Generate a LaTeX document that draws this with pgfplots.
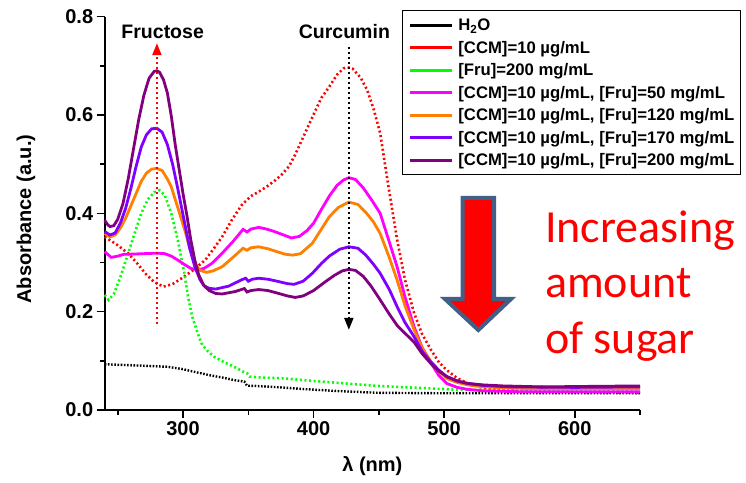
\documentclass[border=0pt]{standalone}
\usepackage{pgfplots}
\pgfplotsset{compat=1.18}
\usepackage{fontspec}
\setmainfont{Liberation Sans}
\newfontfamily\carlito{Carlito}
\usetikzlibrary{arrows.meta}

\definecolor{cH2O}{RGB}{0,0,0}
\definecolor{cCCM}{RGB}{255,0,0}
\definecolor{cFru}{RGB}{0,255,0}
\definecolor{cA}{RGB}{255,0,255}
\definecolor{cB}{RGB}{255,128,0}
\definecolor{cC}{RGB}{128,0,255}
\definecolor{cD}{RGB}{128,0,128}
\definecolor{arrowedge}{RGB}{65,95,135}

\pgfplotstableread{
x y
240 0.093
260 0.091
288 0.088
300 0.083
308 0.078
320 0.071
330 0.066
339 0.061
347 0.0576
349 0.0495
355 0.049
369 0.047
390 0.043
415 0.039
449 0.035
500 0.034
560 0.034
650 0.034
}\waterdata

\pgfplotstableread{
x y
240 0.3525
250 0.335
258 0.3186
265 0.298
271 0.278
278 0.260
285 0.251
292 0.256
299 0.268
308 0.285
317 0.305
324 0.330
330 0.3525
337 0.385
345 0.417
352 0.435
358 0.444
365 0.456
371 0.468
376 0.480
381 0.495
386 0.520
391 0.549
396 0.578
401 0.607
406 0.635
412 0.6575
418 0.682
423 0.695
426 0.697
430 0.694
436 0.676
441 0.651
446 0.612
451 0.563
457 0.460
464 0.346
470 0.265
477 0.197
483 0.155
490 0.122
496 0.097
502 0.081
510 0.065
518 0.054
530 0.045
541 0.041
570 0.038
610 0.036
650 0.035
}\ccmdata

\pgfplotstableread{
x y
240 0.234
243 0.224
247 0.236
252 0.270
258 0.319
263 0.360
268 0.400
273 0.428
278 0.443
282 0.447
286 0.437
291 0.400
296 0.345
301 0.278
304 0.228
307 0.190
311 0.158
314 0.136
318 0.122
324 0.108
331 0.098
339 0.088
346 0.078
349 0.075
351 0.068
360 0.066
377 0.0644
395 0.060
415 0.056
449 0.049
480 0.045
512 0.041
550 0.040
600 0.039
650 0.038
}\frudata

\pgfplotstableread{
x y
240 0.322
245 0.3105
250 0.313
255 0.317
260 0.317
270 0.318
280 0.319
286 0.318
291 0.313
296 0.305
301 0.296
306 0.288
311 0.285
316 0.288
322 0.298
330 0.319
338 0.342
346 0.3675
349 0.362
352 0.368
358 0.3715
364 0.368
370 0.363
377 0.356
383 0.350
389 0.353
395 0.365
400 0.380
406 0.408
412 0.435
418 0.457
423 0.468
427 0.4725
432 0.469
438 0.452
445 0.425
451 0.400
457 0.350
464 0.291
470 0.230
477 0.169
483 0.128
490 0.095
496 0.070
502 0.054
510 0.046
518 0.042
530 0.039
560 0.037
650 0.037
}\fiftydata

\pgfplotstableread{
x y
240 0.359
244 0.352
248 0.356
252 0.370
256 0.390
260 0.415
264 0.440
268 0.465
272 0.482
276 0.490
280 0.4915
284 0.487
288 0.470
291 0.454
295 0.420
299 0.386
302 0.360
305 0.330
309 0.298
313 0.284
318 0.280
323 0.283
330 0.2915
338 0.310
346 0.329
349 0.325
352 0.330
358 0.332
365 0.328
372 0.322
378 0.317
384 0.315
390 0.318
399 0.339
406 0.368
412 0.393
419 0.412
427 0.423
434 0.418
440 0.402
446 0.382
451 0.359
458 0.310
464 0.264
470 0.212
477 0.163
483 0.127
490 0.098
496 0.079
502 0.064
510 0.056
518 0.051
530 0.047
560 0.044
650 0.044
}\onetwentydata

\pgfplotstableread{
x y
240 0.363
244 0.356
248 0.360
252 0.380
256 0.410
260 0.450
264 0.495
268 0.535
272 0.560
276 0.572
280 0.573
284 0.565
288 0.540
292 0.500
296 0.450
299 0.410
302 0.370
305 0.330
309 0.2915
313 0.265
316 0.253
320 0.2475
325 0.246
335 0.252
345 0.265
348 0.268
350 0.262
353 0.266
358 0.268
365 0.266
372 0.262
380 0.257
385 0.2556
392 0.262
399 0.278
406 0.298
412 0.313
420 0.327
427 0.332
434 0.329
440 0.315
446 0.296
451 0.278
458 0.245
464 0.210
470 0.178
477 0.149
483 0.120
490 0.097
496 0.081
502 0.068
510 0.059
518 0.054
530 0.050
550 0.047
600 0.046
650 0.047
}\onesevdata

\pgfplotstableread{
x y
240 0.386
242 0.378
244 0.373
247 0.375
250 0.388
254 0.420
258 0.470
262 0.530
266 0.590
270 0.640
274 0.675
278 0.689
280 0.690
282 0.687
285 0.672
288 0.645
291 0.598
294 0.540
297 0.490
300 0.440
303 0.395
306 0.345
309 0.305
312 0.275
316 0.253
320 0.243
325 0.237
330 0.236
340 0.241
347 0.247
349 0.240
352 0.243
358 0.245
365 0.243
372 0.238
380 0.232
386 0.229
392 0.232
400 0.243
408 0.259
416 0.274
422 0.283
427 0.286
432 0.284
438 0.272
444 0.252
451 0.224
458 0.195
464 0.172
470 0.156
477 0.138
483 0.115
490 0.094
496 0.079
502 0.068
510 0.059
518 0.054
530 0.051
545 0.049
575 0.047
610 0.048
650 0.049
}\twohundreddata

\begin{document}
\begin{tikzpicture}[x=1pt,y=1pt]
\useasboundingbox (0,0) rectangle (746,482);
\begin{axis}[
  at={(104.7pt,72pt)}, anchor=south west,
  scale only axis, width=535.3pt, height=393.3pt,
  xmin=240, xmax=650, ymin=0, ymax=0.8,
  axis x line=bottom, axis y line=left,
  axis line style={-, line width=1.6pt},
  clip=false,
  xtick={300,400,500,600},
  minor xtick={250,350,450,550,650},
  ytick={0,0.2,0.4,0.6,0.8},
  minor ytick={0.1,0.3,0.5,0.7},
  tick align=outside,
  major tick length=8pt, minor tick length=5pt,
  every tick/.style={black, line width=1.6pt},
  /pgf/number format/assume math mode=true,
  yticklabel style={/pgf/number format/.cd, fixed, fixed zerofill, precision=1},
  ticklabel style={font=\bfseries\fontsize{20}{24}\selectfont},
  xlabel={λ (nm)},
  ylabel={Absorbance (a.u.)},
  label style={font=\bfseries\fontsize{20}{24}\selectfont},
  xlabel style={at={(axis description cs:0.5,-0.1424)}, anchor=center},
  ylabel style={at={(axis description cs:-0.147,0.4856)}, anchor=center},
  legend cell align=left,
  legend image code/.code={\path (0pt,0pt) -- (42pt,0pt); \draw[#1] (5pt,0pt) -- (42pt,0pt);},
  legend style={at={(0.5548,1.017)}, anchor=north west, draw=black, line width=1.2pt,
    inner xsep=6.3pt, inner ysep=8pt, row sep=9.5pt, column sep=5pt,
    font=\bfseries\fontsize{16.7}{18}\selectfont,
    nodes={inner sep=0pt, text height=12pt, text depth=1pt}},
]
% spectra
\addplot[cH2O, line width=2.4pt, dash pattern=on 1.6pt off 1.6pt, forget plot] table {\waterdata};
\addplot[cCCM, line width=2.6pt, dash pattern=on 2pt off 2.6pt, forget plot] table {\ccmdata};
\addplot[cFru, line width=2.6pt, dash pattern=on 2pt off 2.6pt, forget plot] table {\frudata};
\addplot[cA, line width=2.8pt, forget plot] table {\fiftydata};
\addplot[cB, line width=2.8pt, forget plot] table {\onetwentydata};
\addplot[cC, line width=2.8pt, forget plot] table {\onesevdata};
\addplot[cD, line width=2.8pt, forget plot] table {\twohundreddata};

% legend entries (solid samples)
\addlegendimage{cH2O, line width=2.8pt}
\addlegendentry{H\textsubscript{2}O}
\addlegendimage{cCCM, line width=2.8pt}
\addlegendentry{[CCM]=10 µg/mL}
\addlegendimage{cFru, line width=2.8pt}
\addlegendentry{[Fru]=200 mg/mL}
\addlegendimage{cA, line width=2.8pt}
\addlegendentry{[CCM]=10 µg/mL, [Fru]=50 mg/mL}
\addlegendimage{cB, line width=2.8pt}
\addlegendentry{[CCM]=10 µg/mL, [Fru]=120 mg/mL}
\addlegendimage{cC, line width=2.8pt}
\addlegendentry{[CCM]=10 µg/mL, [Fru]=170 mg/mL}
\addlegendimage{cD, line width=2.8pt}
\addlegendentry{[CCM]=10 µg/mL, [Fru]=200 mg/mL}

% peak markers
\draw[cCCM, line width=2pt, dash pattern=on 2pt off 3pt, -{Triangle[length=12pt,width=9pt]}]
  (axis cs:280,0.175) -- (axis cs:280,0.746);
\draw[black, line width=2pt, dash pattern=on 2pt off 3pt, -{Triangle[length=12pt,width=9pt]}]
  (axis cs:427,0.739) -- (axis cs:427,0.163);
\node[font=\bfseries\fontsize{19.5}{22}\selectfont] at (axis cs:284.4,0.769) {Fructose};
\node[font=\bfseries\fontsize{19.5}{22}\selectfont] at (axis cs:423.6,0.769) {Curcumin};
\end{axis}

% trend arrow and caption
\draw[arrowedge, line width=4pt, fill=cCCM, line join=miter]
  (462.7,284) -- (494,284) -- (494,183) -- (511,183) -- (478.3,152) -- (445,183) -- (462.7,183) -- cycle;
\begin{scope}[every node/.style={anchor=base west, text=cCCM, inner sep=0pt, font=\carlito\fontsize{46}{55}\selectfont}]
\node at (545,239) {Increasing};
\node at (545,184) {amount};
\node at (545,129) {of sugar};
\end{scope}
\end{tikzpicture}
\end{document}
